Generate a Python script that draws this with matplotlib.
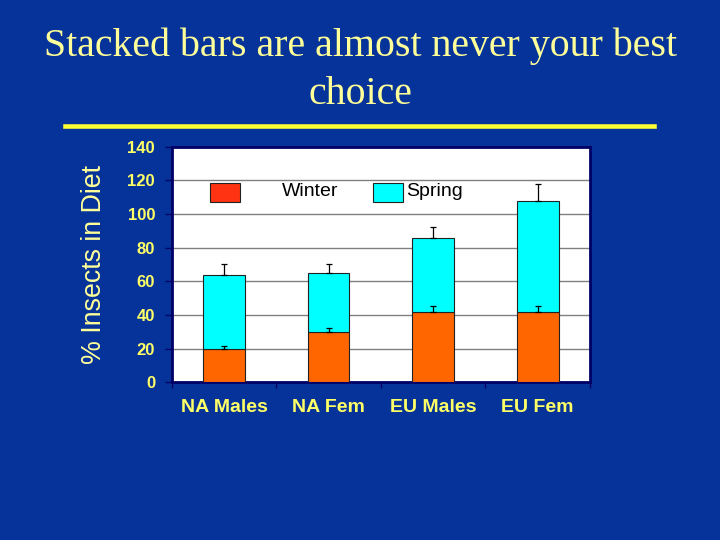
import matplotlib
matplotlib.use("Agg")
import matplotlib.pyplot as plt
from matplotlib.patches import Rectangle
from matplotlib.lines import Line2D
import numpy as np

categories = ["NA Males", "NA Fem", "EU Males", "EU Fem"]
winter = [20, 30, 41.5, 41.5]
spring = [44, 35, 44, 66.5]
winter_err = [1.7, 2.4, 4, 4]
spring_err = [6.5, 5.3, 6.7, 10]
yticks = [0, 20, 40, 60, 80, 100, 120, 140]
title_lines = ["Stacked bars are almost never your best", "choice"]
ylabel = "% Insects in Diet"
legend_labels = ["Winter", "Spring"]

BG = "#05339A"
NAVY = "#000066"
YEL = "#FFFF66"
LYEL = "#FFFF99"

fig = plt.figure(figsize=(7.2, 5.4), dpi=100, facecolor=BG)
ax = fig.add_axes([0.2385, 0.292, 0.5809, 0.4363])
ax.set_facecolor("white")

x = np.arange(len(categories))
w = 0.4
ax.bar(x, winter, w, color="#FF6600", edgecolor="#222222", linewidth=0.8, zorder=3)
ax.bar(x, spring, w, bottom=winter, color="#00FFFF", edgecolor="#222222", linewidth=0.8, zorder=3)
ax.errorbar(x, winter, yerr=[np.zeros(4), winter_err], fmt="none", ecolor="black",
            elinewidth=0.9, capsize=2.5, capthick=0.9, zorder=4)
tot = np.array(winter) + np.array(spring)
ax.errorbar(x, tot, yerr=[np.zeros(4), spring_err], fmt="none", ecolor="black",
            elinewidth=0.9, capsize=2.5, capthick=0.9, zorder=4)

ax.set_xlim(-0.5, 3.5)
ax.set_ylim(0, 140)
ax.set_yticks(yticks)
ax.set_yticklabels([str(t) for t in yticks], fontsize=12, fontweight="bold",
                   color=YEL, family="Liberation Sans")
ax.yaxis.grid(True, color="#808080", linewidth=1.0, zorder=0)
ax.set_axisbelow(True)
ax.set_xticks(x)
ax.set_xticklabels(categories, fontsize=14, fontweight="bold", color=YEL,
                   family="Liberation Sans")
ax.set_xticks(np.arange(-0.5, 4.0, 1.0), minor=True)
ax.tick_params(axis="x", which="major", length=0, pad=12)
ax.tick_params(axis="x", which="minor", length=4, color=NAVY, width=1)
ax.tick_params(axis="y", length=5, color=NAVY, width=1, pad=7)
for s in ax.spines.values():
    s.set_color(NAVY)
    s.set_linewidth(2)

ax.set_ylabel(ylabel, fontsize=19.3, color=LYEL, family="Liberation Sans")
ax.yaxis.set_label_coords(-0.155, 0.5)

# legend
ax.add_patch(Rectangle((0.0916, 0.7666), 0.0717, 0.078, transform=ax.transAxes,
                       facecolor="#FF3311", edgecolor="#222222", linewidth=0.8, zorder=5))
ax.add_patch(Rectangle((0.4805, 0.7666), 0.0717, 0.078, transform=ax.transAxes,
                       facecolor="#00FFFF", edgecolor="#222222", linewidth=0.8, zorder=5))
ax.text(0.263, 0.812, legend_labels[0], transform=ax.transAxes, fontsize=14,
        family="Liberation Sans", va="center", ha="left", color="black", zorder=6)
ax.text(0.5594, 0.812, legend_labels[1], transform=ax.transAxes, fontsize=14,
        family="Liberation Sans", va="center", ha="left", color="black", zorder=6)

fig.text(0.5, 1 - 56 / 540, title_lines[0], ha="center", va="baseline", fontsize=28.7,
         family="Liberation Serif", color=LYEL)
fig.text(0.5, 1 - 104 / 540, title_lines[1], ha="center", va="baseline", fontsize=28.7,
         family="Liberation Serif", color=LYEL)
fig.add_artist(Line2D([65 / 720, 654 / 720], [1 - 125.7 / 540] * 2, color="#FFFF33",
                      linewidth=3.3, transform=fig.transFigure))

fig.savefig("out.png", dpi=100, facecolor=BG)
